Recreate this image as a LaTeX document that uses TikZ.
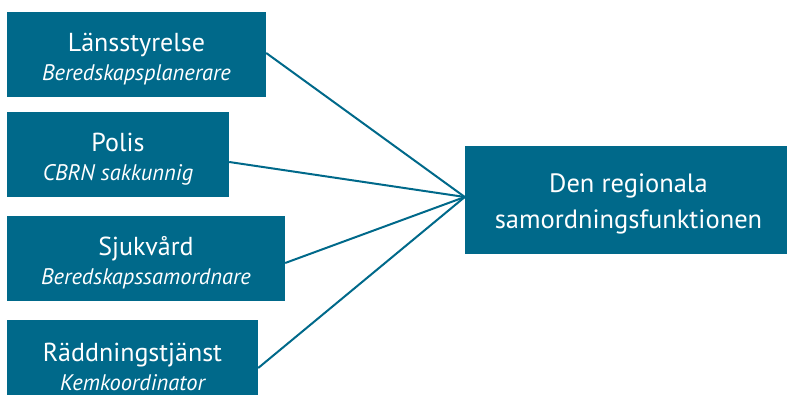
\documentclass[tikz,border=0pt]{standalone}
\usepackage{fontspec}
\setmainfont{PT Sans}
\definecolor{regblue}{HTML}{00698A}
\newcommand{\yrke}[1]{{\fontsize{22.5}{29}\selectfont\itshape #1}}
\newcommand{\topp}{\rule{0pt}{27pt}}

\begin{document}
\begin{tikzpicture}
  [x=1pt,y=1pt,
   every node/.style={rectangle,fill=regblue,text=white,align=center,
     inner sep=0pt,minimum height=85pt,
     font=\fontsize{26}{29}\selectfont}]
  \useasboundingbox (0,0) rectangle (787,395);
  \node[minimum width=259pt] (lans) at (136.5,340.5) {\topp Länsstyrelse\\\yrke{Beredskapsplanerare}};
  \node[minimum width=222pt] (polis) at (118,240.5) {\topp Polis\\\yrke{CBRN sakkunnig}};
  \node[minimum width=278pt] (sjuk) at (146,136.5) {\topp Sjukvård\\\yrke{Beredskapssamordnare}};
  \node[minimum width=251pt] (radd) at (132.5,32.5) {\topp Räddningstjänst\\\yrke{Kemkoordinator}};
  \node[minimum width=327pt,minimum height=108pt,font=\fontsize{26.5}{36}\selectfont]
    (region) at (628.5,195) {\topp Den regionala\\samordningsfunktionen};
  \coordinate (mote) at ([yshift=3pt]region.west);
  \foreach \from/\dy in {lans/1.5,polis/-7.5,sjuk/-4.5,radd/-5.5}
    \draw[regblue,line width=2pt] ([yshift=\dy pt]\from.east) -- (mote);
\end{tikzpicture}
\end{document}
